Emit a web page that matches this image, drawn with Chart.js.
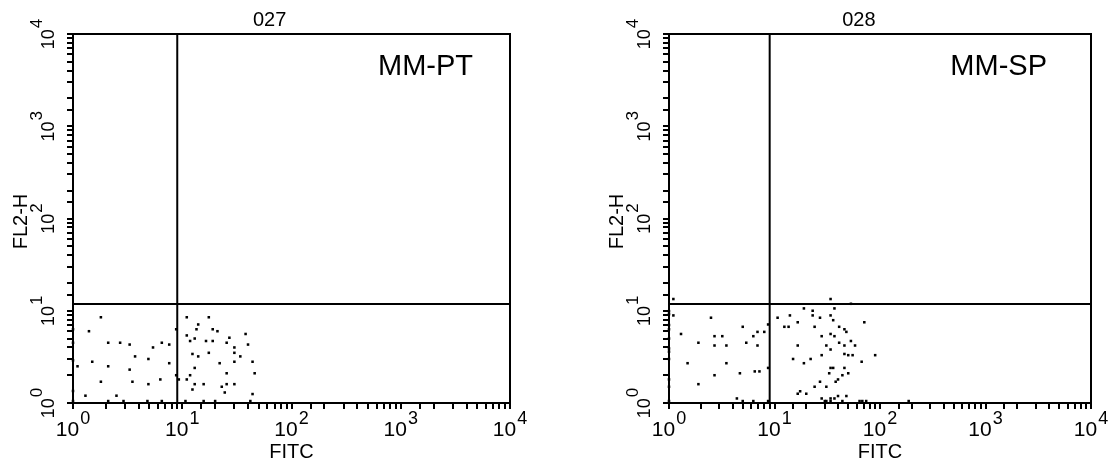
<!DOCTYPE html>
<html>
<head>
<meta charset="utf-8">
<script src="https://cdn.jsdelivr.net/npm/chart.js@4"></script>
<style>
    html, body { margin: 0; padding: 0; background: #fff; }
    #wrap { position: relative; width: 1108px; height: 464px; }
    canvas { position: absolute; top: 0; }
</style>
</head>
<body>
<div id="wrap">
    <canvas id="plotPT" width="554" height="464" style="left:0"></canvas>
    <canvas id="plotSP" width="554" height="464" style="left:554px"></canvas>
</div>
<script>
// decade labels for both log axes
const decades = [1, 10, 100, 1000, 10000];
const decadeExp = ['0', '1', '2', '3', '4'];
const xTitle = 'FITC';
const yTitle = 'FL2-H';

// quadrant gate
const gateFitc = 9;
const gateFl2 = 11.8;

// 027 / MM-PT
const ptFitc = [1.8, 1.0, 1.4, 1.0, 2.1, 2.7, 3.3, 6.5, 7.6, 5.4, 3.7, 4.9, 1.0, 1.1, 1.5, 2.1, 3.3, 7.6, 1.8, 3.5,
    4.9, 6.3, 8.8, 8.8, 1.0, 1.3, 2.5, 1.0, 2.1, 2.9, 4.8, 6.5, 9.3, 11, 17.5, 14, 13.5, 19, 21, 11,
    13, 11.8, 16.5, 19, 27, 25.5, 38, 40, 30, 30, 12.4, 17.5, 14, 34, 30, 22, 44, 13, 25.5, 46,
    11.8, 11, 13, 15.7, 12.4, 23, 24.5, 25.5, 30, 44, 10.7, 15.7, 20, 42];
const ptFl2 = [8.5, 6.3, 6.0, 4.5, 4.5, 4.5, 4.3, 4.5, 4.3, 4.0, 3.2, 3.0, 2.9, 2.5, 2.8, 2.5, 2.3, 2.7, 1.7, 1.7,
    1.6, 1.8, 2.0, 6.3, 1.35, 1.2, 1.2, 1.05, 1.05, 1.05, 1.05, 1.05, 1.8, 8.5, 8.5, 7.1, 6.3, 6.3, 6.0, 5.4,
    5.0, 4.7, 4.7, 4.7, 5.1, 4.5, 5.6, 4.3, 4.0, 3.5, 3.4, 3.5, 3.2, 3.2, 2.8, 2.7, 2.8, 2.4, 2.1, 2.1,
    2.0, 1.8, 1.6, 1.6, 1.4, 1.5, 1.3, 1.6, 1.6, 1.25, 1.05, 1.05, 1.05, 1.05];

// 028 / MM-SP
const spFitc = [1.1, 1.0, 1.0, 1.1, 2.5, 1.0, 1.0, 5.0, 8.7, 6.9, 8.0, 6.3, 1.3, 2.7, 3.2, 1.0, 1.9, 2.7, 3.5, 5.4,
    6.9, 1.0, 1.0, 1.0, 1.5, 3.5, 2.7, 4.7, 6.5, 7.2, 8.7, 1.0, 1.0, 1.9, 4.4, 5.0, 6.3, 8.7, 1.0, 34,
    53, 19, 23, 37, 14, 23, 34, 10.7, 27, 36, 16.6, 71, 12.4, 13.6, 24, 41, 46, 48, 34, 28,
    37, 53, 16.6, 31, 41, 46, 58, 34, 46, 50, 55, 28, 90, 15, 22, 19, 67, 34, 36, 33,
    46, 50, 44, 40, 38, 27, 24, 31, 17.5, 16.6, 20, 28, 30, 31, 34, 34, 37, 40, 44, 48,
    64, 68, 74, 187];
const spFl2 = [13.4, 9.9, 9.2, 8.9, 8.4, 7.0, 6.3, 6.7, 7.1, 5.9, 5.9, 5.3, 5.6, 5.3, 5.3, 5.0, 4.5, 4.2, 4.2, 4.5,
    4.2, 3.9, 3.6, 3.0, 2.7, 2.7, 2.0, 2.1, 2.2, 2.2, 2.4, 1.8, 1.5, 1.6, 1.12, 1.05, 1.05, 1.05, 1.05, 13.4,
    11.9, 10.6, 10.0, 10.6, 8.9, 8.9, 8.9, 8.4, 8.4, 7.9, 7.5, 7.5, 6.7, 6.7, 6.7, 6.7, 6.3, 5.9, 5.6, 5.3,
    5.3, 4.7, 4.2, 4.2, 4.5, 4.2, 4.2, 3.8, 3.4, 3.3, 3.3, 3.3, 3.3, 3.0, 3.0, 2.7, 2.8, 2.4, 2.4, 2.1,
    2.4, 2.1, 2.0, 1.8, 1.7, 1.7, 1.5, 1.5, 1.34, 1.26, 1.26, 1.12, 1.05, 1.05, 1.12, 1.05, 1.12, 1.19, 1.05, 1.19,
    1.05, 1.05, 1.05, 1.05];

const FONT = '"Liberation Sans", Arial, sans-serif';

// "10" with a raised exponent, centred on cx
function drawPower(ctx, cx, base, exp, size, supSize) {
    ctx.textAlign = 'left';
    ctx.font = `${size}px ${FONT}`;
    const wb = ctx.measureText('10').width;
    ctx.font = `${supSize}px ${FONT}`;
    const ws = ctx.measureText(exp).width;
    const left = cx - (wb + ws + 1) / 2;
    ctx.font = `${size}px ${FONT}`;
    ctx.fillText('10', left, base);
    ctx.font = `${supSize}px ${FONT}`;
    ctx.fillText(exp, left + wb + 1, base - 12);
}

const flowPlot = {
    id: 'flowPlot',
    afterDraw(chart, args, o) {
        const { ctx, chartArea: a, scales: { x, y } } = chart;
        ctx.save();
        ctx.fillStyle = '#000';
        ctx.strokeStyle = '#000';
        ctx.lineWidth = 2;
        ctx.strokeRect(a.left, a.top, a.width, a.height);
        ctx.textBaseline = 'alphabetic';

        decades.forEach((v, i) => {
            drawPower(ctx, x.getPixelForValue(v), a.bottom + 33, decadeExp[i], 21, 18);
            ctx.save();
            ctx.translate(a.left - 19, y.getPixelForValue(v));
            ctx.rotate(-Math.PI / 2);
            drawPower(ctx, 0, 0, decadeExp[i], 18, 17);
            ctx.restore();
        });

        ctx.font = `20px ${FONT}`;
        ctx.textAlign = 'center';
        ctx.fillText(xTitle, (a.left + a.right) / 2, a.bottom + 55);
        ctx.fillText(o.title, a.left + a.width * 0.45, a.top - 8);
        ctx.save();
        ctx.translate(a.left - 46, (a.top + a.bottom) / 2 + 3);
        ctx.rotate(-Math.PI / 2);
        ctx.fillText(yTitle, 0, 0);
        ctx.restore();

        ctx.font = `29px ${FONT}`;
        ctx.textAlign = 'right';
        ctx.fillText(o.sample, a.right - o.sampleGap, a.top + 41);
        ctx.restore();
    }
};

function logAxis(size, dim) {
    return {
        type: 'logarithmic',
        min: 1,
        max: 10000,
        grid: { drawOnChartArea: false, drawTicks: true, tickLength: 6, color: '#000', lineWidth: 2 },
        border: { display: true, color: '#000', width: 2 },
        ticks: { display: false, autoSkip: false },
        afterFit: s => { s[dim] = size; }
    };
}

function makePlot(id, fitc, fl2, title, sample, sampleGap, pad) {
    const points = fitc.map((v, i) => ({ x: v, y: fl2[i] }));
    return new Chart(document.getElementById(id), {
        type: 'scatter',
        data: {
            datasets: [
                { data: points, pointStyle: 'rect', pointRadius: 1.8, backgroundColor: '#000', borderWidth: 0, clip: false },
                { data: [{ x: gateFitc, y: 1 }, { x: gateFitc, y: 10000 }], showLine: true, borderColor: '#000', borderWidth: 2, pointRadius: 0 },
                { data: [{ x: 1, y: gateFl2 }, { x: 10000, y: gateFl2 }], showLine: true, borderColor: '#000', borderWidth: 2, pointRadius: 0 }
            ]
        },
        options: {
            responsive: false,
            animation: false,
            events: [],
            layout: { padding: pad },
            plugins: {
                legend: { display: false },
                tooltip: { enabled: false },
                flowPlot: { title, sample, sampleGap }
            },
            scales: {
                x: logAxis(20, 'height'),
                y: logAxis(20, 'width')
            }
        },
        plugins: [flowPlot]
    });
}

makePlot('plotPT', ptFitc, ptFl2, '027', 'MM-PT', 37, { left: 53, right: 44, top: 34, bottom: 41 });
makePlot('plotSP', spFitc, spFl2, '028', 'MM-SP', 44, { left: 95, right: 17, top: 34, bottom: 41 });
</script>
</body>
</html>
